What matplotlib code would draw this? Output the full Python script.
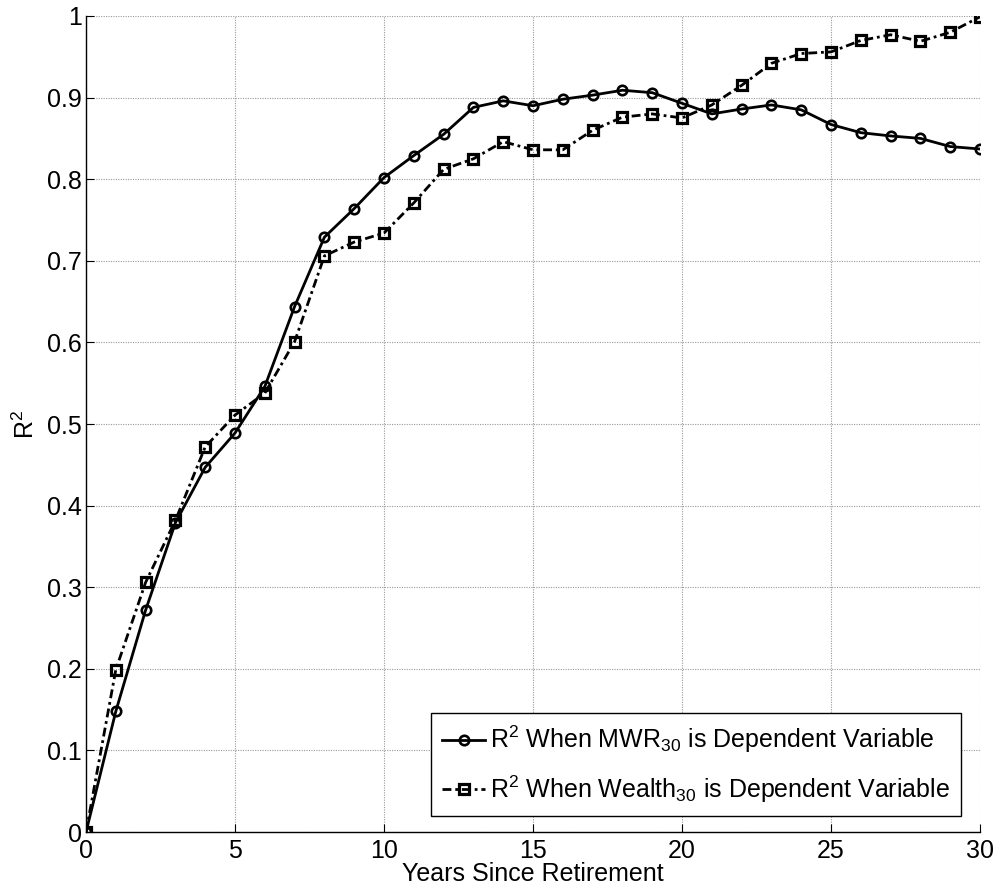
"""Recreate the R^2 vs years-since-retirement chart."""

import matplotlib

matplotlib.use("Agg")
import matplotlib.pyplot as plt

plt.rcParams["font.family"] = ["Liberation Sans", "DejaVu Sans"]
plt.rcParams["mathtext.fontset"] = "custom"
plt.rcParams["mathtext.rm"] = "Liberation Sans"
plt.rcParams["mathtext.it"] = "Liberation Sans:italic"
plt.rcParams["mathtext.bf"] = "Liberation Sans:bold"

# Data
years = list(range(31))
r2_mwr = [
    0.0, 0.148, 0.272, 0.379, 0.447, 0.489, 0.546, 0.644, 0.729, 0.764,
    0.802, 0.829, 0.855, 0.888, 0.896, 0.890, 0.898, 0.903, 0.909, 0.906,
    0.893, 0.880, 0.886, 0.891, 0.885, 0.867, 0.857, 0.853, 0.850, 0.840,
    0.837,
]
r2_wealth = [
    0.0, 0.199, 0.306, 0.382, 0.472, 0.511, 0.538, 0.601, 0.706, 0.723,
    0.734, 0.771, 0.812, 0.825, 0.846, 0.836, 0.836, 0.860, 0.876, 0.880,
    0.875, 0.891, 0.915, 0.942, 0.954, 0.956, 0.970, 0.977, 0.969, 0.980,
    0.999,
]
series_labels = [
    r"R$^{\mathrm{2}}$ When MWR$_{\mathrm{30}}$ is Dependent Variable",
    r"R$^{\mathrm{2}}$ When Wealth$_{\mathrm{30}}$ is Dependent Variable",
]
xticks = [0, 5, 10, 15, 20, 25, 30]
yticks = [0, 0.1, 0.2, 0.3, 0.4, 0.5, 0.6, 0.7, 0.8, 0.9, 1.0]
ytick_labels = ["0", "0.1", "0.2", "0.3", "0.4", "0.5", "0.6", "0.7", "0.8", "0.9", "1"]

FS = 18

fig = plt.figure(figsize=(9.98, 8.88), dpi=100)
ax = fig.add_axes([0.0862, 0.063, 0.8958, 0.919])

ax.plot(
    years, r2_mwr, color="black", lw=2.0, ls="-",
    marker="o", ms=6.8, mew=1.9, mfc="none", mec="black",
    label=series_labels[0], zorder=3,
)
ax.plot(
    years, r2_wealth, color="black", lw=2.0, ls=(0, (3.2, 1.4, 1.0, 1.4)),
    marker="s", ms=6.5, mew=2.3, mfc="none", mec="black",
    label=series_labels[1], zorder=3,
)

ax.set_xlim(0, 30)
ax.set_ylim(0, 1)
ax.set_xticks(xticks)
ax.set_xticklabels([str(t) for t in xticks])
ax.set_yticks(yticks)
ax.set_yticklabels(ytick_labels)
ax.tick_params(direction="in", length=6, width=0.8, labelsize=FS, colors="black")
ax.tick_params(axis="x", pad=5)
ax.tick_params(axis="y", pad=3)

ax.grid(True, color="0.6", ls=(0, (1, 1.2)), lw=0.8)
ax.set_axisbelow(True)
for side in ["top", "right"]:
    ax.spines[side].set_visible(False)
for side in ["left", "bottom"]:
    ax.spines[side].set_linewidth(1.0)
    ax.spines[side].set_color("black")

ax.set_xlabel("Years Since Retirement", fontsize=FS, labelpad=-1)
ax.set_ylabel(r"R$^{\mathrm{2}}$", fontsize=FS, labelpad=6)

leg = ax.legend(
    loc="lower right", bbox_to_anchor=(0.9787, 0.0196), borderaxespad=0,
    fontsize=FS, fancybox=False, framealpha=1, edgecolor="black",
    handlelength=1.7, handletextpad=0.2, borderpad=0.45, labelspacing=0.72,
)
leg.get_frame().set_linewidth(1.0)

fig.savefig("out.png", dpi=100)
